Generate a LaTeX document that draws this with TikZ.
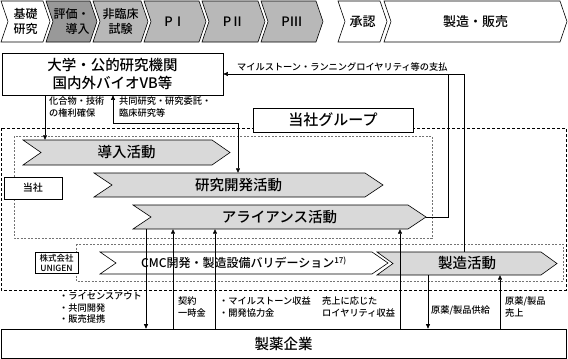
\documentclass[tikz,border=0pt]{standalone}
\usepackage{fontspec}
\setmainfont{Noto Sans CJK JP}[UprightFont={* Medium}]
\usepackage{tikz}
\usetikzlibrary{arrows.meta,positioning,calc}
\definecolor{PhaseDark}{gray}{0.60}
\definecolor{PhaseLight}{gray}{0.72}
\definecolor{ActGray}{gray}{0.85}
\definecolor{FrameGray}{gray}{0.45}

% chevron: name, text style, fill, x0, x1, y0, y1, depth, text
\newcommand{\chevron}[9]{%
  \draw[chev,fill=#3] (#4,#6) -- (#5,#6) -- ({#5+#8},{(#6+#7)/2})
    -- (#5,#7) -- (#4,#7) -- ({#4+#8},{(#6+#7)/2}) -- cycle;
  \coordinate (#1-tip) at ({#5+#8},{(#6+#7)/2});
  \node[#2,inner sep=0,minimum width={#5-#4},minimum height={#7-#6}]
    (#1) at ({(#4+#5+#8)/2},{(#6+#7)/2}) {#9};}

\begin{document}
\begin{tikzpicture}[x=1pt,y=-1pt,>={Triangle[length=4.5pt,width=4pt]},
  chev/.style={draw=black,line width=0.6pt},
  box/.style={draw=black,line width=0.7pt,fill=white,inner sep=0},
  toptxt/.style={font=\fontsize{12}{15}\selectfont,align=center},
  topone/.style={font=\fontsize{13}{15}\selectfont},
  acttxt/.style={font=\fontsize{14.5}{17}\selectfont},
  cmctxt/.style={font=\fontsize{12}{14}\selectfont},
  lbl/.style={font=\fontsize{9.2}{11.5}\selectfont,align=left,inner sep=0},
  link/.style={line width=0.6pt},
  grpdash/.style={draw=black,dash pattern=on 3pt off 2pt,line width=0.6pt},
  unitdash/.style={draw=FrameGray,dash pattern=on 2pt off 1.5pt,line width=0.6pt}]
  \useasboundingbox (0,0) rectangle (568,359);

  % development phases
  \chevron{kiso}{toptxt}{white}{1}{43}{1}{42}{7}{基礎\\研究}
  \chevron{hyoka}{toptxt,align=right}{PhaseDark}{46}{90}{1}{42}{7}{評価・\\導入}
  \chevron{hirin}{toptxt}{PhaseLight}{93}{141}{1}{42}{7}{非臨床\\試験}
  \chevron{pone}{topone}{PhaseLight}{144}{199}{1}{42}{7}{PⅠ}
  \chevron{ptwo}{topone}{PhaseLight}{202}{258}{1}{42}{7}{PⅡ}
  \chevron{pthree}{topone}{PhaseLight}{261}{316}{1}{42}{7}{PⅢ}
  \chevron{shonin}{topone}{white}{338}{380}{1}{42}{7}{承認}
  \chevron{hanbai}{topone}{white}{384}{560}{1}{42}{7}{製造・販売}

  % group frames
  \draw[grpdash] (1,128) rectangle (566,290);
  \draw[unitdash] (14,136) rectangle (432,238);
  \draw[unitdash] (76,244) rectangle (563,281);

  \node[box,minimum width=221,minimum height=42,align=center,
    font=\fontsize{14.5}{18}\selectfont] (univ) at (112.5,74)
    {大学・公的研究機関\\国内外バイオVB等};
  \node[box,minimum width=160,minimum height=24,
    font=\fontsize{15}{18}\selectfont] (group) at (333,120) {当社グループ};
  \node[box,minimum width=58,minimum height=22,
    font=\fontsize{10}{12}\selectfont] (tosha) at (33,188) {当社};
  \node[box,minimum width=43,minimum height=21,align=center,
    font=\fontsize{8.5}{10}\selectfont] (unigen) at (56.5,262.5) {株式会社\\UNIGEN};
  \node[box,minimum width=565,minimum height=29,
    font=\fontsize{14.5}{18}\selectfont] (maker) at (283.5,343.5) {製薬企業};

  % activities
  \chevron{donyu}{acttxt}{ActGray}{23}{212}{140}{165}{18}{導入活動}
  \chevron{kenkyu}{acttxt}{ActGray}{94}{365}{173}{197}{18}{研究開発活動}
  \chevron{alliance}{acttxt}{ActGray}{133}{408}{205}{229}{18}{アライアンス活動}
  \chevron{cmc}{cmctxt}{white}{100}{372}{252}{274}{16}{CMC開発・製造設備バリデーション\textsuperscript{17)}}
  \chevron{seizou}{acttxt}{ActGray}{377}{541}{252}{275}{16}{製造活動}

  % connector columns
  \coordinate (kenri) at (45,0);
  \coordinate (kyodo) at (113,123);
  \coordinate (kyodo2) at (238,123);
  \coordinate (shiharai) at (464,74);
  \coordinate (royal) at (448,74);
  \coordinate (lic) at (146,0);
  \coordinate (keiyaku) at (173,0);
  \coordinate (mile) at (215,0);
  \coordinate (uriage) at (400,0);
  \coordinate (kyokyu) at (428,0);
  \coordinate (seihin) at (500,0);

  \draw[link,->] (univ.south -| kenri) -- (donyu.north -| kenri);
  \draw[link,<->] (univ.south -| kyodo) -- (kyodo) -| (kenkyu.north -| kyodo2);
  \draw[link,->] (seizou.north -| shiharai) -- (shiharai) -- (univ.east);
  \draw[link] (alliance-tip) -| (royal);

  \draw[link,->] (alliance.south -| lic) -- (maker.north -| lic);
  \draw[link,->] (maker.north -| keiyaku) -- (alliance.south -| keiyaku);
  \draw[link,->] (maker.north -| mile) -- (alliance.south -| mile);
  \draw[link,->] (maker.north -| uriage) -- (alliance.south -| uriage);
  \draw[link,->] (seizou.south -| kyokyu) -- (maker.north -| kyokyu);
  \draw[link,->] (maker.north -| seihin) -- (seizou.south -| seihin);

  % labels
  \node[lbl,anchor=north west] (kenriLbl) at (49,97) {化合物・技術\\の権利確保};
  \node[lbl,anchor=north west] (kyodoLbl) at (119,97) {共同研究・研究委託・\\臨床研究等};
  \node[lbl,anchor=south west] (payLbl) at (237,71) {マイルストーン・ランニングロイヤリティ等の支払};
  \node[lbl,anchor=north west] (licLbl) at (59,292) {・ライセンスアウト\\・共同開発\\・販売提携};
  \node[lbl,anchor=north west] (keiyakuLbl) at (178,297) {契約\\一時金};
  \node[lbl,anchor=north west] (mileLbl) at (219,297) {・マイルストーン収益\\・開発協力金};
  \node[lbl,anchor=north west] (uriageLbl) at (322,297) {売上に応じた\\ロイヤリティ収益};
  \node[lbl,anchor=west] (kyokyuLbl) at (431,310) {原薬/製品供給};
  \node[lbl,anchor=north west] (seihinLbl) at (505,297) {原薬/製品\\売上};
\end{tikzpicture}
\end{document}
